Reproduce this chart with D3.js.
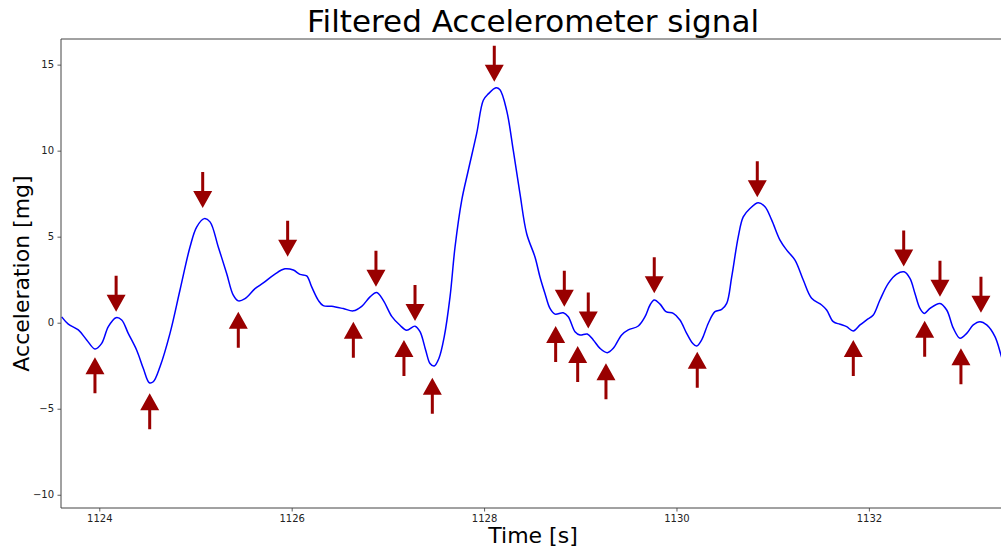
<!DOCTYPE html>
<html>
<head>
<meta charset="utf-8">
<script src="https://cdn.jsdelivr.net/npm/d3@7"></script>
<style>
  body { margin: 0; background: #fff; }
  svg { display: block; font-family: "DejaVu Sans", sans-serif; }
</style>
</head>
<body>
<div id="plot"></div>
<script>
// filtered signal (time in s, acceleration in mg)
const sig_time = [
  1123.609, 1123.678, 1123.782, 1123.869, 1123.955, 1124.025, 1124.094, 1124.174, 1124.233, 1124.301,
  1124.389, 1124.457, 1124.520, 1124.561, 1124.631, 1124.735, 1124.839, 1124.943, 1125.012, 1125.091,
  1125.151, 1125.237, 1125.324, 1125.393, 1125.445, 1125.515, 1125.619, 1125.705, 1125.826, 1125.930,
  1126.017, 1126.086, 1126.156, 1126.208, 1126.277, 1126.328, 1126.416, 1126.536, 1126.640, 1126.728,
  1126.814, 1126.884, 1126.952, 1127.040, 1127.126, 1127.195, 1127.282, 1127.334, 1127.393, 1127.438,
  1127.482, 1127.531, 1127.586, 1127.646, 1127.698, 1127.767, 1127.836, 1127.923, 1127.992, 1128.044,
  1128.124, 1128.165, 1128.235, 1128.304, 1128.373, 1128.443, 1128.529, 1128.581, 1128.633, 1128.685,
  1128.737, 1128.823, 1128.875, 1128.945, 1128.997, 1129.073, 1129.135, 1129.205, 1129.281, 1129.343,
  1129.430, 1129.499, 1129.603, 1129.673, 1129.725, 1129.769, 1129.829, 1129.891, 1129.967, 1130.036,
  1130.106, 1130.168, 1130.210, 1130.262, 1130.331, 1130.400, 1130.470, 1130.522, 1130.574, 1130.642,
  1130.694, 1130.764, 1130.850, 1130.920, 1130.990, 1131.076, 1131.146, 1131.232, 1131.318, 1131.405,
  1131.509, 1131.561, 1131.630, 1131.700, 1131.769, 1131.838, 1131.908, 1131.977, 1132.046, 1132.115,
  1132.202, 1132.289, 1132.365, 1132.427, 1132.479, 1132.531, 1132.576, 1132.635, 1132.739, 1132.809,
  1132.878, 1132.947, 1133.017, 1133.085, 1133.155, 1133.225, 1133.311, 1133.370, 1133.400
];
const sig_value = [
   0.34, -0.08, -0.42, -1.00, -1.53, -1.20, -0.23,  0.29,  0.16, -0.62,
  -1.60, -2.65, -3.49, -3.43, -2.56, -0.62,  1.90,  4.40,  5.56,  6.05,
   5.86,  4.40,  2.86,  1.60,  1.27,  1.40,  1.98,  2.31,  2.83,  3.13,
   3.06,  2.81,  2.72,  2.08,  1.30,  0.99,  0.95,  0.82,  0.69,  0.95,
   1.50,  1.75,  1.30,  0.37, -0.15, -0.44, -0.20, -0.52, -1.60, -2.37,
  -2.52, -2.07, -0.81,  1.50,  4.40,  7.10,  8.86, 11.00, 12.93, 13.30,
  13.65, 13.54, 12.33, 10.00,  7.50,  5.17,  3.82,  2.66,  1.70,  0.83,
   0.50,  0.58,  0.35, -0.52, -0.71, -0.66, -1.00, -1.49, -1.74, -1.49,
  -0.71, -0.42, -0.19,  0.35,  1.03,  1.32,  1.08,  0.64,  0.54,  0.16,
  -0.62, -1.20, -1.36, -1.00, -0.03,  0.64,  0.77,  1.12,  2.66,  4.99,
   6.15,  6.64,  6.97,  6.74,  5.96,  4.80,  4.22,  3.64,  2.48,  1.42,
   1.03,  0.74,  0.06, -0.09, -0.23, -0.48, -0.13,  0.16,  0.45,  1.32,
   2.29,  2.83,  2.96,  2.58,  1.70,  0.83,  0.54,  0.83,  1.12,  0.74,
  -0.32, -0.90, -0.62, -0.13,  0.06, -0.13, -0.81, -1.82, -2.40
];

// detected peaks: arrow tip positions (down arrows)
const peak_time  = [1124.175, 1125.075, 1125.958, 1126.876, 1127.282, 1128.106, 1128.834, 1129.083, 1129.769, 1130.840, 1132.362, 1132.739, 1133.165];
const peak_tip   = [0.64, 6.66, 3.84, 2.09, 0.10, 14.01, 0.93, -0.33, 1.71, 7.29, 3.26, 1.51, 0.58];
// detected valleys: arrow tip positions (up arrows)
const valley_time = [1123.955, 1124.524, 1125.445, 1126.641, 1127.167, 1127.462, 1128.744, 1128.973, 1129.267, 1130.216, 1131.838, 1132.580, 1132.957];
const valley_tip  = [-2.01, -4.10, 0.64, 0.06, -1.01, -3.20, -0.19, -1.35, -2.36, -1.69, -1.01, 0.12, -1.49];

const x_ticks = [1124, 1126, 1128, 1130, 1132];
const y_ticks = [-10, -5, 0, 5, 10, 15];

const total_width = 1001
const total_height = 549
const margin = {left: 61, top: 39, right: -4, bottom: 41}
const width = total_width - margin.left - margin.right
const height = total_height - margin.top - margin.bottom

const arrow_color = "#990000"

var svg = d3.select("#plot")
  .append("svg")
  .attr("width", total_width)
  .attr("height", total_height);

var g = svg.append("g").attr("transform", "translate(" + margin.left + "," + margin.top + ")");

var x = d3.scaleLinear().domain([1123.602, 1133.415]).range([0, width]);
var y = d3.scaleLinear().domain([-10.77, 16.49]).range([height, 0]);

g.append("clipPath").attr("id", "clip")
  .append("rect").attr("width", width).attr("height", height);

// signal
var pts = sig_time.map(function(t, i) { return [t, sig_value[i]]; });
var line = d3.line()
  .x(function(d) { return x(d[0]); })
  .y(function(d) { return y(d[1]); })
  .curve(d3.curveCatmullRom.alpha(0.5));

g.append("path")
  .attr("clip-path", "url(#clip)")
  .attr("d", line(pts))
  .attr("fill", "none")
  .attr("stroke", "#0000ff")
  .attr("stroke-width", 1.5);

// arrows: tip at (px,py), dir = 1 points down, -1 points up
const arrow_len = 36, head_len = 17, head_half = 9.5, shaft_half = 1.5;
function arrow_path(px, py, dir) {
  var b = py - dir * arrow_len, h = py - dir * head_len;
  return "M" + (px - shaft_half) + "," + b +
    "L" + (px + shaft_half) + "," + b +
    "L" + (px + shaft_half) + "," + h +
    "L" + (px + head_half) + "," + h +
    "L" + px + "," + py +
    "L" + (px - head_half) + "," + h +
    "L" + (px - shaft_half) + "," + h + "Z";
}

var arrows = g.append("g").attr("class", "arrows").attr("fill", arrow_color);
arrows.selectAll("path.down").data(peak_time).enter().append("path")
  .attr("class", "down")
  .attr("d", function(d, i) { return arrow_path(x(d), y(peak_tip[i]), 1); });
arrows.selectAll("path.up").data(valley_time).enter().append("path")
  .attr("class", "up")
  .attr("d", function(d, i) { return arrow_path(x(d), y(valley_tip[i]), -1); });

// axes
var xAxis = d3.axisBottom(x).tickValues(x_ticks).tickFormat(d3.format("d")).tickSize(3.5).tickPadding(3.5);
var gx = g.append("g").attr("transform", "translate(0," + height + ")").call(xAxis);
var yAxis = d3.axisLeft(y).tickValues(y_ticks).tickFormat(d3.format("d")).tickSize(3.5).tickPadding(3.5);
var gy = g.append("g").call(yAxis);

[gx, gy].forEach(function(a) {
  a.select(".domain").remove();
  a.selectAll(".tick line").attr("stroke", "#333").attr("stroke-width", 0.8);
  a.selectAll(".tick text").attr("fill", "#222").style("font-size", "10px").style("font-family", "DejaVu Sans");
});

// spines (left, top, bottom)
g.append("line").attr("x1", 0).attr("x2", 0).attr("y1", 0).attr("y2", height).attr("stroke", "#444").attr("stroke-width", 1);
g.append("line").attr("x1", 0).attr("x2", width).attr("y1", 0).attr("y2", 0).attr("stroke", "#444").attr("stroke-width", 1);
g.append("line").attr("x1", 0).attr("x2", width).attr("y1", height).attr("y2", height).attr("stroke", "#444").attr("stroke-width", 1);

// titles
svg.append("text").attr("x", margin.left + width / 2).attr("y", 32)
  .attr("text-anchor", "middle").attr("font-size", 31).attr("fill", "#000")
  .text("Filtered Accelerometer signal");
svg.append("text").attr("x", margin.left + width / 2).attr("y", 543)
  .attr("text-anchor", "middle").attr("font-size", 22).attr("fill", "#000")
  .text("Time [s]");
svg.append("text").attr("transform", "translate(29," + (margin.top + height / 2) + ") rotate(-90)")
  .attr("text-anchor", "middle").attr("font-size", 22).attr("fill", "#000")
  .text("Acceleration [mg]");
</script>
</body>
</html>
